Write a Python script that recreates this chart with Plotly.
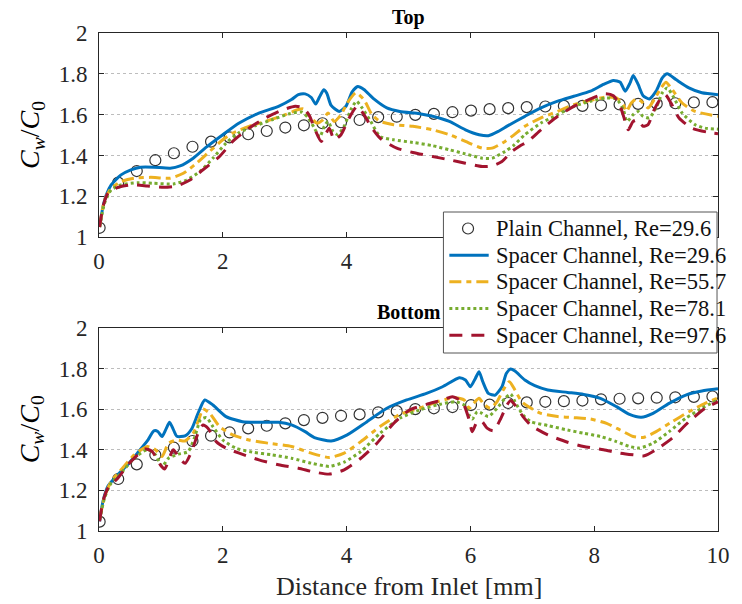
import plotly.graph_objects as go

# ---------------- data ----------------
plain_x = [0.01, 0.31, 0.61, 0.91, 1.21, 1.51, 1.81, 2.11, 2.41, 2.71, 3.01, 3.31,
           3.61, 3.91, 4.21, 4.51, 4.81, 5.11, 5.41, 5.71, 6.01, 6.31, 6.61, 6.91,
           7.21, 7.51, 7.81, 8.11, 8.41, 8.71, 9.01, 9.31, 9.61, 9.91]

top_plain_y = [1.046, 1.267, 1.324, 1.377, 1.411, 1.443, 1.468, 1.489, 1.504, 1.520,
               1.537, 1.548, 1.558, 1.563, 1.574, 1.588, 1.590, 1.599, 1.604, 1.612,
               1.620, 1.627, 1.632, 1.637, 1.640, 1.643, 1.643, 1.646, 1.650, 1.653,
               1.654, 1.656, 1.660, 1.661]

bot_plain_y = [1.046, 1.256, 1.328, 1.374, 1.410, 1.443, 1.469, 1.485, 1.505, 1.518,
               1.530, 1.546, 1.557, 1.567, 1.574, 1.584, 1.590, 1.600, 1.604, 1.610,
               1.620, 1.622, 1.630, 1.633, 1.636, 1.639, 1.642, 1.648, 1.651, 1.653,
               1.656, 1.658, 1.660, 1.662]

# Top wall, spacer channel
top_re296_x = [0.01, 0.064, 0.117, 0.197, 0.356, 0.515, 0.674, 0.886, 1.151, 1.31, 1.522, 1.734,
               2.0, 2.265, 2.583, 2.9, 3.11, 3.22, 3.33, 3.43, 3.50, 3.56, 3.63, 3.68, 3.75,
               3.88, 3.99, 4.09, 4.18, 4.28, 4.44, 4.65, 4.86, 5.18, 5.39, 5.66, 5.92, 6.14,
               6.29, 6.45, 6.6, 6.88, 7.14, 7.41, 7.67, 7.94, 8.15, 8.31, 8.42, 8.5, 8.58,
               8.63, 8.71, 8.79, 8.89, 9.0, 9.1, 9.18, 9.32, 9.53, 9.74, 10.0]
top_re296_y = [1.05, 1.149, 1.207, 1.256, 1.305, 1.330, 1.343, 1.343, 1.338, 1.349, 1.387, 1.441,
               1.502, 1.559, 1.608, 1.641, 1.674, 1.698, 1.702, 1.684, 1.652, 1.685, 1.722, 1.705, 1.645,
               1.616, 1.641, 1.712, 1.738, 1.723, 1.677, 1.633, 1.616, 1.605, 1.592, 1.567, 1.526, 1.502,
               1.497, 1.518, 1.545, 1.592, 1.633, 1.666, 1.690, 1.715, 1.748, 1.767, 1.759, 1.715, 1.756,
               1.792, 1.748, 1.693, 1.677, 1.715, 1.780, 1.800, 1.772, 1.731, 1.707, 1.698]

top_re557_x = [0.01, 0.09, 0.197, 0.356, 0.568, 0.834, 1.151, 1.363, 1.575, 1.787, 2.0, 2.16,
               2.424, 2.69, 3.01, 3.22, 3.30, 3.38, 3.52, 3.617, 3.70, 3.80, 3.91, 4.01, 4.15,
               4.28, 4.41, 4.54, 4.76, 5.07, 5.39, 5.66, 5.92, 6.19, 6.35, 6.56, 6.7, 6.88,
               7.14, 7.41, 7.67, 7.94, 8.2, 8.36, 8.47, 8.52, 8.6, 8.68, 8.76, 8.87, 8.97,
               9.08, 9.16, 9.26, 9.42, 9.63, 10.0]
top_re557_y = [1.05, 1.182, 1.239, 1.272, 1.289, 1.293, 1.289, 1.313, 1.362, 1.420, 1.477, 1.510,
               1.543, 1.567, 1.600, 1.625, 1.628, 1.600, 1.559, 1.575, 1.608, 1.567, 1.600, 1.657, 1.707,
               1.674, 1.600, 1.567, 1.551, 1.543, 1.526, 1.502, 1.469, 1.436, 1.436, 1.469, 1.500, 1.543,
               1.584, 1.616, 1.649, 1.670, 1.687, 1.682, 1.649, 1.616, 1.657, 1.677, 1.666, 1.633, 1.674,
               1.731, 1.759, 1.723, 1.657, 1.616, 1.592]

top_re781_x = [0.01, 0.09, 0.197, 0.356, 0.62, 0.886, 1.204, 1.416, 1.628, 1.84, 2.053, 2.265,
               2.53, 2.795, 3.06, 3.27, 3.38, 3.48, 3.564, 3.64, 3.70, 3.78, 3.855, 3.96, 4.07,
               4.16, 4.25, 4.39, 4.54, 4.76, 5.07, 5.39, 5.66, 5.92, 6.19, 6.35, 6.56, 6.7,
               6.88, 7.14, 7.41, 7.67, 7.94, 8.2, 8.36, 8.47, 8.53, 8.63, 8.71, 8.79, 8.89,
               9.0, 9.1, 9.18, 9.29, 9.42, 9.63, 9.79, 10.0]
top_re781_y = [1.05, 1.166, 1.231, 1.256, 1.267, 1.264, 1.261, 1.280, 1.321, 1.387, 1.461, 1.513,
               1.546, 1.575, 1.603, 1.613, 1.584, 1.534, 1.490, 1.543, 1.567, 1.518, 1.502, 1.543, 1.625,
               1.666, 1.633, 1.567, 1.493, 1.477, 1.464, 1.448, 1.428, 1.408, 1.387, 1.387, 1.420, 1.450,
               1.502, 1.559, 1.600, 1.641, 1.666, 1.682, 1.677, 1.625, 1.567, 1.600, 1.616, 1.592, 1.584,
               1.633, 1.707, 1.731, 1.682, 1.608, 1.551, 1.534, 1.529]

top_re976_x = [0.01, 0.064, 0.144, 0.303, 0.515, 0.78, 1.045, 1.257, 1.469, 1.68, 1.947, 2.16,
               2.424, 2.69, 2.95, 3.17, 3.3, 3.40, 3.48, 3.59, 3.67, 3.72, 3.80, 3.91, 4.04,
               4.17, 4.28, 4.41, 4.54, 4.81, 5.07, 5.39, 5.66, 5.92, 6.19, 6.35, 6.51, 6.67,
               6.80, 6.93, 7.14, 7.41, 7.67, 7.94, 8.18, 8.31, 8.42, 8.5, 8.55, 8.63, 8.71,
               8.79, 8.87, 8.97, 9.08, 9.15, 9.24, 9.37, 9.58, 9.85, 10.0]
top_re976_y = [1.05, 1.149, 1.215, 1.244, 1.256, 1.251, 1.244, 1.251, 1.280, 1.330, 1.395, 1.469,
               1.534, 1.584, 1.621, 1.641, 1.633, 1.595, 1.534, 1.469, 1.510, 1.534, 1.477, 1.502, 1.584,
               1.641, 1.600, 1.534, 1.485, 1.436, 1.415, 1.395, 1.379, 1.362, 1.346, 1.349, 1.371, 1.420,
               1.447, 1.469, 1.526, 1.592, 1.641, 1.677, 1.703, 1.693, 1.641, 1.567, 1.526, 1.567, 1.575,
               1.543, 1.551, 1.625, 1.682, 1.698, 1.657, 1.584, 1.534, 1.513, 1.507]

# Bottom wall, spacer channel
bot_re296_x = [0.01, 0.064, 0.144, 0.303, 0.462, 0.62, 0.78, 0.886, 0.95, 1.018, 1.08, 1.14,
               1.20, 1.257, 1.39, 1.496, 1.60, 1.708, 1.84, 2.053, 2.318, 2.583, 2.9, 3.11,
               3.33, 3.48, 3.75, 4.01, 4.33, 4.65, 4.97, 5.29, 5.55, 5.82, 5.92, 6.0, 6.08,
               6.14, 6.2, 6.29, 6.4, 6.51, 6.58, 6.65, 6.72, 6.88, 7.04, 7.25, 7.57, 7.83,
               8.1, 8.36, 8.57, 8.76, 8.95, 9.21, 9.48, 9.74, 10.0]
bot_re296_y = [1.048, 1.146, 1.220, 1.277, 1.326, 1.383, 1.443, 1.493, 1.490, 1.465, 1.500, 1.535,
               1.500, 1.466, 1.468, 1.502, 1.579, 1.645, 1.620, 1.563, 1.538, 1.535, 1.535, 1.522,
               1.489, 1.460, 1.443, 1.473, 1.538, 1.604, 1.645, 1.677, 1.710, 1.754, 1.743, 1.710, 1.751,
               1.784, 1.735, 1.677, 1.669, 1.710, 1.775, 1.797, 1.787, 1.743, 1.715, 1.694, 1.682, 1.672,
               1.653, 1.612, 1.574, 1.560, 1.579, 1.628, 1.669, 1.689, 1.700]

bot_re557_x = [0.01, 0.09, 0.197, 0.356, 0.568, 0.78, 0.913, 1.018, 1.124, 1.257, 1.39, 1.522,
               1.62, 1.68, 1.79, 1.947, 2.16, 2.424, 2.74, 3.11, 3.43, 3.72, 3.96, 4.23, 4.54,
               4.86, 5.18, 5.5, 5.76, 5.9, 5.98, 6.05, 6.14, 6.22, 6.32, 6.43, 6.53, 6.63,
               6.72, 6.83, 6.98, 7.14, 7.41, 7.67, 7.94, 8.2, 8.42, 8.63, 8.79, 9.0, 9.26,
               9.53, 9.79, 10.0]
bot_re557_y = [1.056, 1.170, 1.244, 1.301, 1.374, 1.416, 1.400, 1.367, 1.432, 1.448, 1.443, 1.481,
               1.555, 1.600, 1.579, 1.514, 1.473, 1.448, 1.432, 1.416, 1.383, 1.362, 1.383, 1.440, 1.514,
               1.574, 1.604, 1.640, 1.656, 1.645, 1.604, 1.628, 1.653, 1.623, 1.604, 1.636, 1.694, 1.735,
               1.694, 1.636, 1.604, 1.579, 1.563, 1.558, 1.551, 1.530, 1.497, 1.465, 1.460, 1.489, 1.538,
               1.587, 1.628, 1.655]

bot_re781_x = [0.01, 0.09, 0.197, 0.356, 0.568, 0.78, 0.913, 1.018, 1.124, 1.284, 1.44, 1.55,
               1.64, 1.734, 1.84, 2.0, 2.21, 2.476, 2.795, 3.11, 3.43, 3.72, 3.96, 4.23, 4.54,
               4.86, 5.18, 5.5, 5.76, 5.9, 5.98, 6.03, 6.11, 6.19, 6.29, 6.43, 6.56, 6.65,
               6.72, 6.85, 6.98, 7.25, 7.57, 7.83, 8.1, 8.36, 8.57, 8.73, 8.95, 9.21, 9.48,
               9.74, 10.0]
bot_re781_y = [1.056, 1.162, 1.236, 1.285, 1.358, 1.400, 1.375, 1.318, 1.358, 1.378, 1.391, 1.465,
               1.547, 1.558, 1.514, 1.448, 1.408, 1.388, 1.375, 1.358, 1.334, 1.318, 1.339, 1.391, 1.481,
               1.555, 1.596, 1.623, 1.636, 1.620, 1.571, 1.551, 1.587, 1.579, 1.563, 1.604, 1.653, 1.675,
               1.636, 1.571, 1.538, 1.519, 1.497, 1.481, 1.465, 1.440, 1.416, 1.408, 1.432, 1.489, 1.555,
               1.604, 1.645]

bot_re976_x = [0.01, 0.064, 0.144, 0.303, 0.515, 0.75, 0.86, 0.99, 1.06, 1.20, 1.30, 1.39,
               1.496, 1.60, 1.68, 1.76, 1.894, 2.053, 2.265, 2.583, 2.9, 3.22, 3.48, 3.72, 3.96,
               4.23, 4.49, 4.76, 5.02, 5.29, 5.55, 5.71, 5.87, 5.98, 6.03, 6.11, 6.19, 6.27,
               6.37, 6.48, 6.59, 6.65, 6.72, 6.85, 6.98, 7.25, 7.57, 7.83, 8.15, 8.42, 8.63,
               8.81, 9.0, 9.26, 9.53, 9.79, 10.0]
bot_re976_y = [1.048, 1.146, 1.211, 1.260, 1.342, 1.404, 1.391, 1.326, 1.305, 1.400, 1.358, 1.333,
               1.391, 1.481, 1.522, 1.506, 1.440, 1.408, 1.383, 1.350, 1.326, 1.309, 1.290, 1.280, 1.301,
               1.358, 1.432, 1.530, 1.596, 1.623, 1.645, 1.661, 1.636, 1.547, 1.489, 1.538, 1.538, 1.506,
               1.493, 1.547, 1.620, 1.642, 1.620, 1.563, 1.519, 1.473, 1.437, 1.416, 1.400, 1.383, 1.375,
               1.370, 1.400, 1.457, 1.538, 1.604, 1.636]

series_names = ["Spacer Channel, Re=29.6", "Spacer Channel, Re=55.7",
                "Spacer Channel, Re=78.1", "Spacer Channel, Re=97.6"]
plain_name = "Plain Channel, Re=29.6"
x_ticks = [0, 2, 4, 6, 8, 10]
x_ticktext_top = ["0", "2", "4", "", "", ""]      # 6, 8, 10 are hidden under the legend
x_ticktext_bot = ["0", "2", "4", "6", "8", "10"]
y_ticks = [1, 1.2, 1.4, 1.6, 1.8, 2]
y_ticktext = ["1", "1.2", "1.4", "1.6", "1.8", "2"]

# ---------------- styling ----------------
colors = ["#0072BD", "#EDB120", "#77AC30", "#A2142F"]
dashes = ["solid", "12px,5px,5px,5px", "3px,3px", "13px,9px"]
FONT = "Liberation Serif"
AX = "#262626"
MARK = "#333333"

top_sets = [(top_re296_x, top_re296_y), (top_re557_x, top_re557_y),
            (top_re781_x, top_re781_y), (top_re976_x, top_re976_y)]
bot_sets = [(bot_re296_x, bot_re296_y), (bot_re557_x, bot_re557_y),
            (bot_re781_x, bot_re781_y), (bot_re976_x, bot_re976_y)]

fig = go.Figure()

def add_panel(plain_y, sets, xa, ya):
    fig.add_trace(go.Scatter(
        x=plain_x, y=plain_y, mode="markers", name=plain_name,
        marker=dict(symbol="circle-open", size=11, color=MARK, line=dict(width=1.2)),
        xaxis=xa, yaxis=ya, showlegend=False))
    for i, (xs, ys) in enumerate(sets):
        fig.add_trace(go.Scatter(
            x=xs, y=ys, mode="lines", name=series_names[i],
            line=dict(color=colors[i], width=3, dash=dashes[i], shape="spline", smoothing=0.6),
            xaxis=xa, yaxis=ya, showlegend=False))

add_panel(top_plain_y, top_sets, "x", "y")
add_panel(bot_plain_y, bot_sets, "x2", "y2")

common_x = dict(range=[0, 10], tickvals=x_ticks, ticks="inside", ticklen=5,
                tickcolor=AX, showline=True, linecolor=AX, linewidth=1, mirror="ticks",
                showgrid=False, zeroline=False,
                tickfont=dict(family=FONT, size=23, color=AX), ticklabelstandoff=3)
common_y = dict(range=[1, 2], tickvals=y_ticks, ticktext=y_ticktext, ticks="inside", ticklen=5,
                tickcolor=AX, showline=True, linecolor=AX, linewidth=1, mirror="ticks",
                showgrid=True, gridcolor="#bdbdbd", griddash="dot", gridwidth=1, zeroline=False,
                tickfont=dict(family=FONT, size=23, color=AX), ticklabelstandoff=6)

fig.update_layout(
    width=742, height=604,
    margin=dict(l=99, r=14, t=33, b=73),
    paper_bgcolor="white", plot_bgcolor="white",
    xaxis=dict(domain=[0, 1], anchor="y", ticktext=x_ticktext_top, **common_x),
    yaxis=dict(domain=[0.590, 1], anchor="x", **common_y),
    xaxis2=dict(domain=[0, 1], anchor="y2", ticktext=x_ticktext_bot, **common_x),
    yaxis2=dict(domain=[0, 0.408], anchor="x2", **common_y),
    showlegend=False,
    font=dict(family=FONT, color=AX),
)

# ---------------- legend box (drawn in paper coordinates) ----------------
PW, PH, PL, PB = 629.0, 498.0, 99.0, 531.0   # plot-area geometry in pixels
def px(xp):
    return (xp - PL) / PW
def py(yp):
    return (PB - yp) / PH

fig.add_shape(type="rect", xref="paper", yref="paper", layer="above",
              x0=px(449), x1=px(727), y0=py(353), y1=py(212),
              fillcolor="white", line=dict(color="#555555", width=1))
row_y = [228.5, 255.2, 281.8, 308.5, 335.2]
fig.add_shape(type="circle", xref="paper", yref="paper", layer="above",
              xsizemode="pixel", ysizemode="pixel", xanchor=px(474), yanchor=py(row_y[0]),
              x0=-5.5, x1=5.5, y0=-5.5, y1=5.5, line=dict(color=MARK, width=1.2))
for i in range(4):
    fig.add_shape(type="line", xref="paper", yref="paper", layer="above",
                  x0=px(455), x1=px(495), y0=py(row_y[i + 1]), y1=py(row_y[i + 1]),
                  line=dict(color=colors[i], width=3, dash=dashes[i]))
legend_texts = [plain_name] + series_names
for t, ry in zip(legend_texts, row_y):
    fig.add_annotation(text=t, xref="paper", yref="paper", x=px(500), y=py(ry),
                       xanchor="left", yanchor="middle", showarrow=False,
                       font=dict(family=FONT, size=22.5, color="#111111"))

ylabel = "<i>C<sub>w</sub></i>/<i>C</i><sub>0</sub>"
annots = [
    dict(text="<b>Top</b>", x=0.5, y=1.032, font=dict(family=FONT, size=20, color="#000")),
    dict(text="<b>Bottom</b>", x=0.5, y=0.4398, font=dict(family=FONT, size=20, color="#000")),
    dict(text=ylabel, x=-0.110, y=0.795, textangle=-90, font=dict(family=FONT, size=28, color="#000")),
    dict(text=ylabel, x=-0.110, y=0.204, textangle=-90, font=dict(family=FONT, size=28, color="#000")),
    dict(text="Distance from Inlet [mm]", x=0.5, y=-0.112, font=dict(family=FONT, size=26, color=AX)),
]
for a in annots:
    fig.add_annotation(xref="paper", yref="paper", showarrow=False,
                       xanchor="center", yanchor="middle", **a)

fig.write_html("out.html")
